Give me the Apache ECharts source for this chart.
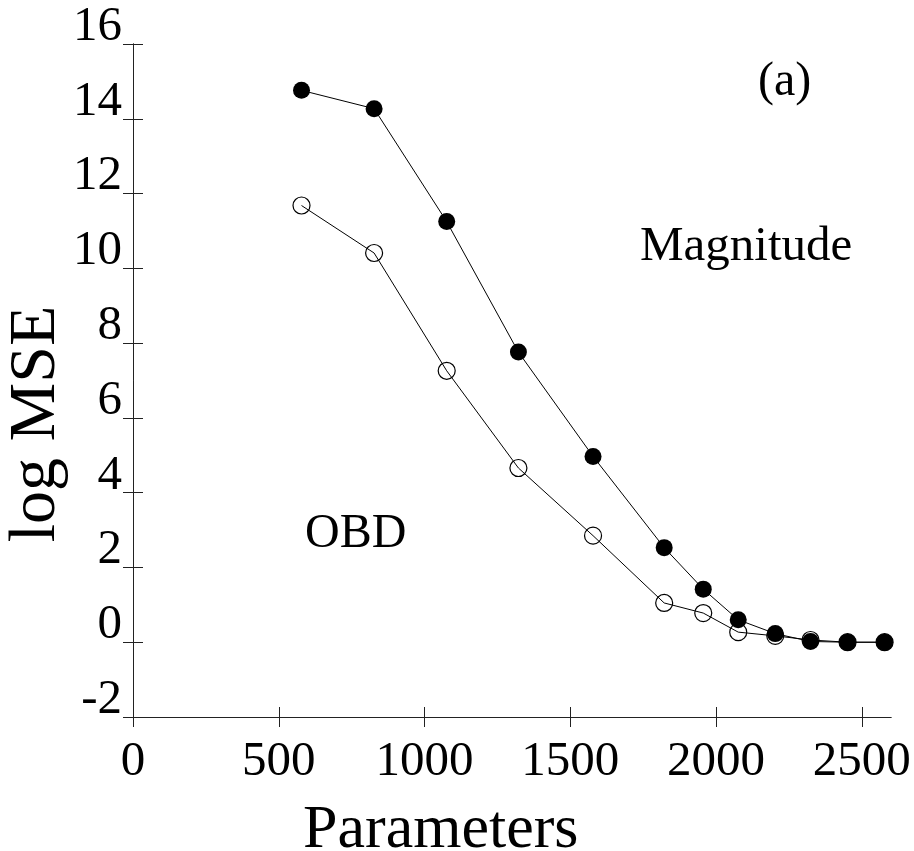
<!DOCTYPE html>
<html>
<head>
<meta charset="utf-8">
<script src="https://cdn.jsdelivr.net/npm/echarts@6/dist/echarts.min.js"></script>
<style>html,body{margin:0;padding:0;background:#fff;}#c{width:914px;height:851px;}</style>
</head>
<body>
<div id="c"></div>
<script>
var params = [578, 827, 1076, 1322, 1578, 1822, 1956, 2076, 2203, 2324, 2451, 2578];
var magnitude = [14.76, 14.27, 11.25, 7.76, 4.97, 2.53, 1.42, 0.6, 0.23, 0.02, 0.0, 0.0];
var obd = [11.68, 10.41, 7.26, 4.66, 2.85, 1.05, 0.78, 0.27, 0.17, 0.06, 0.0, 0.0];
var xTicks = [0, 500, 1000, 1500, 2000, 2500];
var yTicks = [-2, 0, 2, 4, 6, 8, 10, 12, 14, 16];

var FONT = '"Liberation Serif", "Times New Roman", serif';
function pairs(xs, ys) { return xs.map(function (x, i) { return [x, ys[i]]; }); }

var chart = echarts.init(document.getElementById('c'), null, {renderer: 'canvas'});
var baseX = {
  type: 'value', min: 0, max: 2600, position: 'bottom', gridIndex: 0,
  axisLine: {show: true, onZero: false, lineStyle: {color: '#222', width: 1}},
  splitLine: {show: false}
};
var baseY = {
  type: 'value', min: -2, max: 16, interval: 2, position: 'left', gridIndex: 0,
  axisLine: {show: true, onZero: false, lineStyle: {color: '#222', width: 1}},
  splitLine: {show: false}
};
chart.setOption({
  animation: false,
  backgroundColor: '#fff',
  grid: {left: 133, right: 23, top: 44, bottom: 134, containLabel: false},
  xAxis: [
    Object.assign({}, baseX, {
      axisTick: {show: true, inside: false, length: 10, lineStyle: {color: '#222', width: 1}, customValues: xTicks},
      axisLabel: {show: true, customValues: xTicks, margin: 21, color: '#000', fontFamily: FONT, fontSize: 49,
        formatter: function (v) { return String(v); }}
    }),
    Object.assign({}, baseX, {
      axisTick: {show: true, inside: true, length: 10, lineStyle: {color: '#222', width: 1}, customValues: xTicks},
      axisLabel: {show: false}
    })
  ],
  yAxis: [
    Object.assign({}, baseY, {
      axisTick: {show: true, inside: false, length: 10, lineStyle: {color: '#222', width: 1}},
      axisLabel: {show: true, margin: 11, color: '#000', fontFamily: FONT, fontSize: 49,
        verticalAlign: 'bottom', lineHeight: 34,
        formatter: function (v) { return String(v); }}
    }),
    Object.assign({}, baseY, {
      axisTick: {show: true, inside: true, length: 10, lineStyle: {color: '#222', width: 1}},
      axisLabel: {show: false}
    })
  ],
  series: [
    {
      name: 'OBD', type: 'line', xAxisIndex: 0, yAxisIndex: 0,
      data: pairs(params, obd),
      symbol: 'circle', symbolSize: 17,
      lineStyle: {color: '#000', width: 1},
      itemStyle: {color: 'rgba(255,255,255,0)', borderColor: '#000', borderWidth: 1.2},
      z: 2
    },
    {
      name: 'Magnitude', type: 'line', xAxisIndex: 0, yAxisIndex: 0,
      data: pairs(params, magnitude),
      symbol: 'circle', symbolSize: 17,
      lineStyle: {color: '#000', width: 1},
      itemStyle: {color: '#000', borderColor: '#000', borderWidth: 0},
      z: 3
    }
  ],
  graphic: [
    {type: 'text', left: 303, top: 800, style: {text: 'Parameters', font: '62px ' + FONT, fill: '#000'}},
    {type: 'text', x: 37, y: 424, rotation: Math.PI / 2,
      style: {text: 'log MSE', font: '66px ' + FONT, fill: '#000', align: 'center', verticalAlign: 'middle'}},
    {type: 'text', x: 640, y: 247, style: {text: 'Magnitude', font: '49px ' + FONT, fill: '#000', align: 'left', verticalAlign: 'middle'}},
    {type: 'text', x: 305, y: 534, style: {text: 'OBD', font: '48px ' + FONT, fill: '#000', align: 'left', verticalAlign: 'middle'}},
    {type: 'text', x: 758, y: 82, style: {text: '(a)', font: '48px ' + FONT, fill: '#000', align: 'left', verticalAlign: 'middle'}}
  ]
});
</script>
</body>
</html>
